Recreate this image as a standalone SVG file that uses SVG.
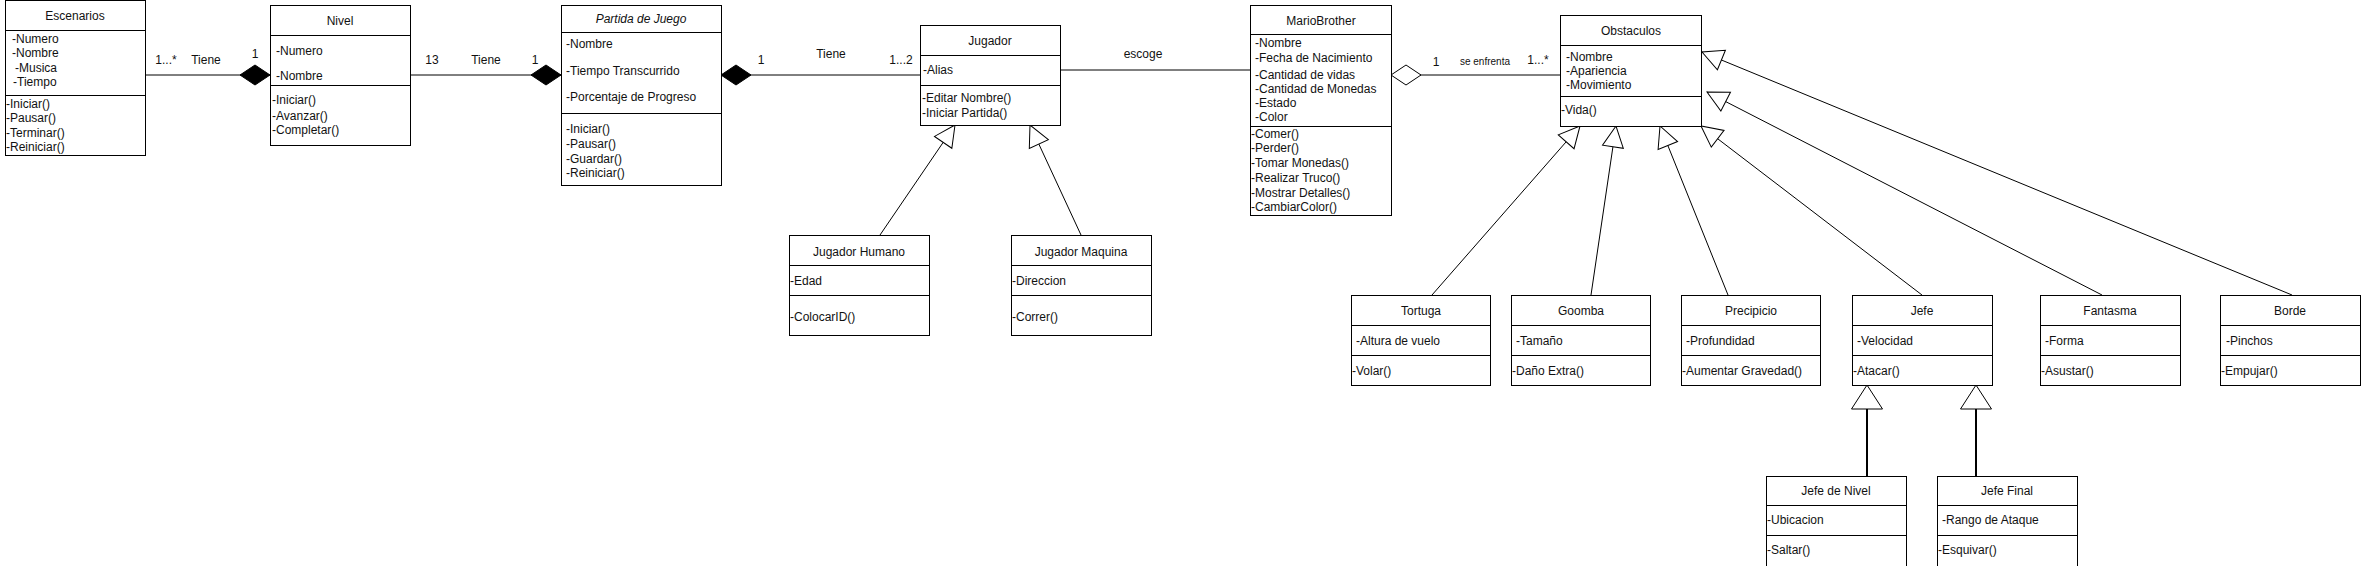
<svg xmlns="http://www.w3.org/2000/svg" width="2361" height="566" viewBox="0 0 2361 566">
<style>
.box{fill:#fff;stroke:#000;stroke-width:1}
.sep{stroke:#000;stroke-width:1}
text{font-family:"Liberation Sans",Arial,sans-serif;font-size:12px;fill:#111}
.t{text-anchor:middle}
.i{font-style:italic}
.c{stroke:#000;stroke-width:1;fill:none}
.c2{stroke:#000;stroke-width:2;fill:none}
.lbl{text-anchor:middle}
.sm{font-size:10px}
</style>
<defs>
<marker id="dia" markerUnits="userSpaceOnUse" markerWidth="32" markerHeight="22" viewBox="-1 -11 32 22" refX="0" refY="0" orient="auto" overflow="visible">
<path d="M0,0 L15,-10 L30,0 L15,10 Z" fill="#000" stroke="#000" stroke-width="1"/>
</marker>
<marker id="odia" markerUnits="userSpaceOnUse" markerWidth="32" markerHeight="22" viewBox="-1 -11 32 22" refX="0" refY="0" orient="auto" overflow="visible">
<path d="M0,0 L15,-10 L30,0 L15,10 Z" fill="#fff" stroke="#000" stroke-width="1"/>
</marker>
<marker id="gen" markerUnits="userSpaceOnUse" markerWidth="24" markerHeight="24" viewBox="-23 -12 24 24" refX="0" refY="0" orient="auto" overflow="visible">
<path d="M0,0 L-21,-10.5 L-21,10.5 Z" fill="#fff" stroke="#000" stroke-width="1"/>
</marker>
<marker id="gen2" markerUnits="userSpaceOnUse" markerWidth="26" markerHeight="34" viewBox="-25 -17 26 34" refX="0" refY="0" orient="auto" overflow="visible">
<path d="M0,0 L-24,-15.5 L-24,15.5 Z" fill="#fff" stroke="#000" stroke-width="1"/>
</marker>
</defs>
<rect width="2361" height="566" fill="#fff"/>

<g id="connectors">
<path class="c" d="M270,75 L145,75" marker-start="url(#dia)"/>
<path class="c" d="M561,75 L411,75" marker-start="url(#dia)"/>
<path class="c" d="M721,75 L920,75" marker-start="url(#dia)"/>
<path class="c" d="M1060,70 L1250,70"/>
<path class="c" d="M1391,75 L1560,75" marker-start="url(#odia)"/>
<path class="c" d="M880,235 L955,125" marker-end="url(#gen)"/>
<path class="c" d="M1081,235 L1030,125" marker-end="url(#gen)"/>
<path class="c" d="M1432,295 L1580,126" marker-end="url(#gen)"/>
<path class="c" d="M1591,295 L1616,126" marker-end="url(#gen)"/>
<path class="c" d="M1728,295 L1660,126" marker-end="url(#gen)"/>
<path class="c" d="M1922,295 L1701,126" marker-end="url(#gen)"/>
<path class="c" d="M2102,295 L1707,92" marker-end="url(#gen)"/>
<path class="c" d="M2292,295 L1702,52" marker-end="url(#gen)"/>
<path class="c2" d="M1867,476 L1867,385" marker-end="url(#gen2)"/>
<path class="c2" d="M1976,476 L1976,385" marker-end="url(#gen2)"/>
<text class="lbl" x="166" y="64">1...*</text>
<text class="lbl" x="206" y="64">Tiene</text>
<text class="lbl" x="255" y="58">1</text>
<text class="lbl" x="432" y="64">13</text>
<text class="lbl" x="486" y="64">Tiene</text>
<text class="lbl" x="535" y="64">1</text>
<text class="lbl" x="761" y="64">1</text>
<text class="lbl" x="831" y="58">Tiene</text>
<text class="lbl" x="901" y="64">1...2</text>
<text class="lbl" x="1143" y="58">escoge</text>
<text class="lbl" x="1436" y="66">1</text>
<text class="lbl sm" x="1485" y="65">se enfrenta</text>
<text class="lbl" x="1538" y="64">1...*</text>
</g>

<g id="escenarios">
<rect class="box" x="5.5" y="0.5" width="140" height="155"/>
<line class="sep" x1="5.5" y1="30.5" x2="145.5" y2="30.5"/>
<line class="sep" x1="5.5" y1="95.5" x2="145.5" y2="95.5"/>
<text class="t" x="75" y="20">Escenarios</text>
<text x="12" y="43">-Numero</text>
<text x="12" y="57">-Nombre</text>
<text x="15" y="72">-Musica</text>
<text x="13" y="86">-Tiempo</text>
<text x="6" y="108">-Iniciar()</text>
<text x="6" y="122">-Pausar()</text>
<text x="6" y="137">-Terminar()</text>
<text x="6" y="151">-Reiniciar()</text>
</g>

<g id="nivel">
<rect class="box" x="270.5" y="5.5" width="140" height="140"/>
<line class="sep" x1="270.5" y1="35.5" x2="410.5" y2="35.5"/>
<line class="sep" x1="270.5" y1="85.5" x2="410.5" y2="85.5"/>
<text class="t" x="340" y="25">Nivel</text>
<text x="276" y="55">-Numero</text>
<text x="276" y="80">-Nombre</text>
<text x="272" y="104">-Iniciar()</text>
<text x="272" y="120">-Avanzar()</text>
<text x="272" y="134">-Completar()</text>
</g>

<g id="partida">
<rect class="box" x="561.5" y="5.5" width="160" height="180"/>
<line class="sep" x1="561.5" y1="32.5" x2="721.5" y2="32.5"/>
<line class="sep" x1="561.5" y1="113.5" x2="721.5" y2="113.5"/>
<text class="t i" x="641" y="23">Partida de Juego</text>
<text x="566" y="48">-Nombre</text>
<text x="566" y="75">-Tiempo Transcurrido</text>
<text x="566" y="101">-Porcentaje de Progreso</text>
<text x="566" y="133">-Iniciar()</text>
<text x="566" y="148">-Pausar()</text>
<text x="566" y="163">-Guardar()</text>
<text x="566" y="177">-Reiniciar()</text>
</g>

<g id="jugador">
<rect class="box" x="920.5" y="25.5" width="140" height="100"/>
<line class="sep" x1="920.5" y1="55.5" x2="1060.5" y2="55.5"/>
<line class="sep" x1="920.5" y1="85.5" x2="1060.5" y2="85.5"/>
<text class="t" x="990" y="45">Jugador</text>
<text x="923" y="74">-Alias</text>
<text x="922" y="102">-Editar Nombre()</text>
<text x="922" y="117">-Iniciar Partida()</text>
</g>

<g id="jugador-humano">
<rect class="box" x="789.5" y="235.5" width="140" height="100"/>
<line class="sep" x1="789.5" y1="265.5" x2="929.5" y2="265.5"/>
<line class="sep" x1="789.5" y1="295.5" x2="929.5" y2="295.5"/>
<text class="t" x="859" y="256">Jugador Humano</text>
<text x="790" y="285">-Edad</text>
<text x="790" y="321">-ColocarID()</text>
</g>

<g id="jugador-maquina">
<rect class="box" x="1011.5" y="235.5" width="140" height="100"/>
<line class="sep" x1="1011.5" y1="265.5" x2="1151.5" y2="265.5"/>
<line class="sep" x1="1011.5" y1="295.5" x2="1151.5" y2="295.5"/>
<text class="t" x="1081" y="256">Jugador Maquina</text>
<text x="1012" y="285">-Direccion</text>
<text x="1012" y="321">-Correr()</text>
</g>

<g id="mariobrother">
<rect class="box" x="1250.5" y="5.5" width="141" height="210"/>
<line class="sep" x1="1250.5" y1="34.5" x2="1391.5" y2="34.5"/>
<line class="sep" x1="1250.5" y1="126.5" x2="1391.5" y2="126.5"/>
<text class="t" x="1321" y="25">MarioBrother</text>
<text x="1255" y="47">-Nombre</text>
<text x="1255" y="62">-Fecha de Nacimiento</text>
<text x="1255" y="79">-Cantidad de vidas</text>
<text x="1255" y="93">-Cantidad de Monedas</text>
<text x="1255" y="107">-Estado</text>
<text x="1255" y="121">-Color</text>
<text x="1251" y="138">-Comer()</text>
<text x="1251" y="152">-Perder()</text>
<text x="1251" y="167">-Tomar Monedas()</text>
<text x="1251" y="182">-Realizar Truco()</text>
<text x="1251" y="197">-Mostrar Detalles()</text>
<text x="1251" y="211">-CambiarColor()</text>
</g>

<g id="obstaculos">
<rect class="box" x="1560.5" y="15.5" width="141" height="111"/>
<line class="sep" x1="1560.5" y1="45.5" x2="1701.5" y2="45.5"/>
<line class="sep" x1="1560.5" y1="96.5" x2="1701.5" y2="96.5"/>
<text class="t" x="1631" y="35">Obstaculos</text>
<text x="1566" y="61">-Nombre</text>
<text x="1566" y="75">-Apariencia</text>
<text x="1566" y="89">-Movimiento</text>
<text x="1561" y="114">-Vida()</text>
</g>

<g id="tortuga">
<rect class="box" x="1351.5" y="295.5" width="139" height="90"/>
<line class="sep" x1="1351.5" y1="325.5" x2="1490.5" y2="325.5"/>
<line class="sep" x1="1351.5" y1="355.5" x2="1490.5" y2="355.5"/>
<text class="t" x="1421" y="315">Tortuga</text>
<text x="1356" y="345">-Altura de vuelo</text>
<text x="1352" y="375">-Volar()</text>
</g>

<g id="goomba">
<rect class="box" x="1511.5" y="295.5" width="139" height="90"/>
<line class="sep" x1="1511.5" y1="325.5" x2="1650.5" y2="325.5"/>
<line class="sep" x1="1511.5" y1="355.5" x2="1650.5" y2="355.5"/>
<text class="t" x="1581" y="315">Goomba</text>
<text x="1516" y="345">-Tamaño</text>
<text x="1512" y="375">-Daño Extra()</text>
</g>

<g id="precipicio">
<rect class="box" x="1681.5" y="295.5" width="139" height="90"/>
<line class="sep" x1="1681.5" y1="325.5" x2="1820.5" y2="325.5"/>
<line class="sep" x1="1681.5" y1="355.5" x2="1820.5" y2="355.5"/>
<text class="t" x="1751" y="315">Precipicio</text>
<text x="1686" y="345">-Profundidad</text>
<text x="1682" y="375">-Aumentar Gravedad()</text>
</g>

<g id="jefe">
<rect class="box" x="1852.5" y="295.5" width="140" height="90"/>
<line class="sep" x1="1852.5" y1="325.5" x2="1992.5" y2="325.5"/>
<line class="sep" x1="1852.5" y1="355.5" x2="1992.5" y2="355.5"/>
<text class="t" x="1922" y="315">Jefe</text>
<text x="1857" y="345">-Velocidad</text>
<text x="1853" y="375">-Atacar()</text>
</g>

<g id="fantasma">
<rect class="box" x="2040.5" y="295.5" width="140" height="90"/>
<line class="sep" x1="2040.5" y1="325.5" x2="2180.5" y2="325.5"/>
<line class="sep" x1="2040.5" y1="355.5" x2="2180.5" y2="355.5"/>
<text class="t" x="2110" y="315">Fantasma</text>
<text x="2045" y="345">-Forma</text>
<text x="2041" y="375">-Asustar()</text>
</g>

<g id="borde">
<rect class="box" x="2220.5" y="295.5" width="140" height="90"/>
<line class="sep" x1="2220.5" y1="325.5" x2="2360.5" y2="325.5"/>
<line class="sep" x1="2220.5" y1="355.5" x2="2360.5" y2="355.5"/>
<text class="t" x="2290" y="315">Borde</text>
<text x="2226" y="345">-Pinchos</text>
<text x="2221" y="375">-Empujar()</text>
</g>

<g id="jefe-de-nivel">
<rect class="box" x="1766.5" y="476.5" width="140" height="90"/>
<line class="sep" x1="1766.5" y1="505.5" x2="1906.5" y2="505.5"/>
<line class="sep" x1="1766.5" y1="535.5" x2="1906.5" y2="535.5"/>
<text class="t" x="1836" y="495">Jefe de Nivel</text>
<text x="1767" y="524">-Ubicacion</text>
<text x="1767" y="554">-Saltar()</text>
</g>

<g id="jefe-final">
<rect class="box" x="1937.5" y="476.5" width="140" height="90"/>
<line class="sep" x1="1937.5" y1="505.5" x2="2077.5" y2="505.5"/>
<line class="sep" x1="1937.5" y1="535.5" x2="2077.5" y2="535.5"/>
<text class="t" x="2007" y="495">Jefe Final</text>
<text x="1942" y="524">-Rango de Ataque</text>
<text x="1938" y="554">-Esquivar()</text>
</g>
</svg>
